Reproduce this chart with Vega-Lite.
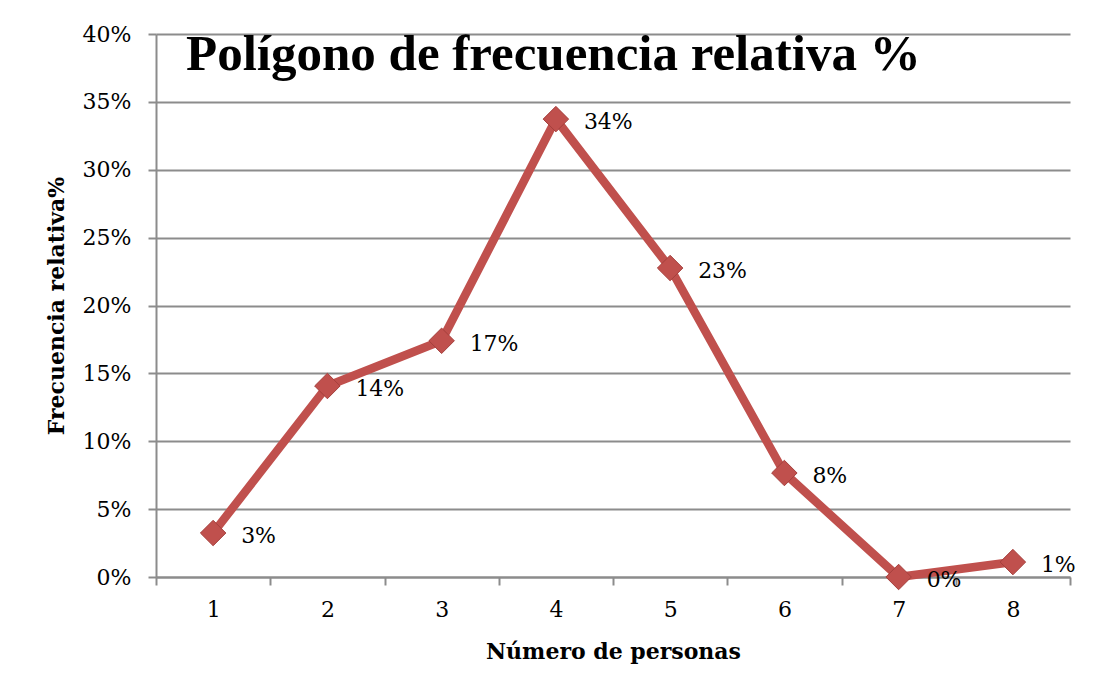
{
  "$schema": "https://vega.github.io/schema/vega-lite/v6.json",
  "width": 914,
  "height": 543,
  "autosize": {"type": "none"},
  "padding": {"left": 156, "top": 34, "right": 23, "bottom": 121},
  "background": "white",
  "title": {
    "text": "Polígono de frecuencia relativa %",
    "anchor": "start",
    "frame": "group",
    "font": "Liberation Serif",
    "fontSize": 51,
    "fontWeight": "bold",
    "color": "#000000",
    "dx": 30,
    "baseline": "top",
    "offset": -58
  },
  "data": {
    "values": [
      {"personas": "1", "frecuencia": 0.0324},
      {"personas": "2", "frecuencia": 0.1407},
      {"personas": "3", "frecuencia": 0.174},
      {"personas": "4", "frecuencia": 0.3373},
      {"personas": "5", "frecuencia": 0.2276},
      {"personas": "6", "frecuencia": 0.0766},
      {"personas": "7", "frecuencia": 0.0},
      {"personas": "8", "frecuencia": 0.011}
    ]
  },
  "encoding": {
    "x": {
      "field": "personas",
      "type": "ordinal",
      "scale": {"type": "band", "paddingInner": 0, "paddingOuter": 0},
      "axis": {
        "title": "Número de personas",
        "labelAngle": 0,
        "tickBand": "extent",
        "grid": false,
        "tickSize": 8,
        "labelPadding": 14,
        "titlePadding": 21
      }
    },
    "y": {
      "field": "frecuencia",
      "type": "quantitative",
      "scale": {"domain": [0, 0.4], "nice": false},
      "axis": {
        "title": "Frecuencia relativa%",
        "format": ".0%",
        "values": [0, 0.05, 0.1, 0.15, 0.2, 0.25, 0.3, 0.35, 0.4],
        "tickSize": 8,
        "labelPadding": 17,
        "titlePadding": 14
      }
    }
  },
  "layer": [
    {
      "mark": {"type": "line", "color": "#C0504D", "strokeWidth": 8.5, "strokeJoin": "round"}
    },
    {
      "mark": {"type": "point", "shape": "diamond", "size": 650, "filled": true, "color": "#C0504D", "stroke": "#A5403D", "strokeWidth": 1, "opacity": 1}
    },
    {
      "mark": {"type": "text", "align": "left", "baseline": "middle", "dx": 28, "dy": 3, "font": "DejaVu Serif", "fontSize": 22, "color": "#000000"},
      "encoding": {
        "text": {"field": "frecuencia", "type": "quantitative", "format": ".0%"}
      }
    }
  ],
  "config": {
    "view": {"stroke": null},
    "axis": {
      "labelFont": "DejaVu Serif",
      "labelFontSize": 22,
      "labelColor": "#000000",
      "titleFont": "DejaVu Serif",
      "titleFontSize": 22,
      "titleFontWeight": "bold",
      "titleColor": "#000000",
      "domainColor": "#8C8C8C",
      "domainWidth": 2,
      "tickColor": "#8C8C8C",
      "tickWidth": 2,
      "gridColor": "#8C8C8C",
      "gridWidth": 2,
      "gridOpacity": 1
    }
  }
}
